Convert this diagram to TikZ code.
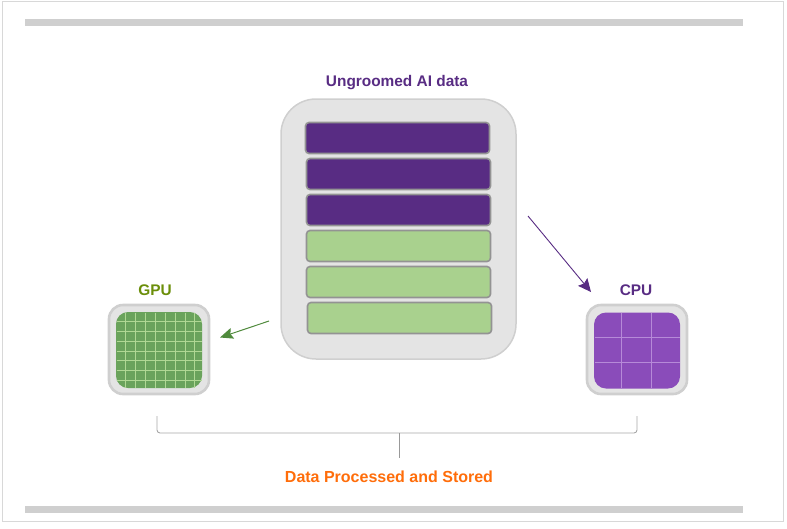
\documentclass[tikz,border=0pt]{standalone}
\usepackage{fontspec}
\setmainfont{Liberation Sans}
\usetikzlibrary{arrows.meta}
\definecolor{darkpurple}{HTML}{582C83}
\definecolor{cpupurple}{HTML}{8A4CBA}
\definecolor{lightgreen}{HTML}{A9D18E}
\definecolor{gpugreen}{HTML}{6AA35C}
\definecolor{gridgreen}{HTML}{B0D894}
\definecolor{gridpurple}{HTML}{B68AD8}
\definecolor{arrowgreen}{HTML}{4F8A3C}
\definecolor{olivetext}{HTML}{6B8E0A}
\definecolor{orangetext}{HTML}{FF6D0A}
\definecolor{shellgray}{HTML}{E4E4E4}
\definecolor{edgegray}{HTML}{CFCFCF}
\tikzset{
  datarow/.style={draw=gray!85, line width=1.6pt, rounded corners=3.5pt, minimum width=184pt, minimum height=31pt, inner sep=0pt},
  chipshell/.style={draw=edgegray, fill=shellgray, line width=2.6pt, rounded corners=14pt, minimum width=100pt, minimum height=89pt, inner sep=0pt},
  chipcore/.style={rounded corners=12pt, minimum width=86pt, minimum height=76pt, inner sep=0pt},
  caption/.style={font=\bfseries\fontsize{15.4}{18}\selectfont, inner sep=0pt}
}
\begin{document}
\begin{tikzpicture}[x=1pt,y=-1pt]
\useasboundingbox (0,0) rectangle (787,528);
% frame and bars
\draw[edgegray!80, line width=1pt] (2,1.5) rectangle (783.5,521);
\fill[edgegray] (25,19) rectangle (743,25.5);
\fill[edgegray] (25,506) rectangle (743,513);
% data block
\node[caption, text=darkpurple] (datatitle) at (397,82.5) {Ungroomed AI data};
\node[draw=edgegray, fill=shellgray, line width=1.5pt, rounded corners=35pt, minimum width=235pt, minimum height=260pt, inner sep=0pt] (datablock) at (398.5,229) {};
\node[datarow, fill=darkpurple] (rowa) at (397.5,138) {};
\node[datarow, fill=darkpurple] (rowb) at (398.5,174) {};
\node[datarow, fill=darkpurple] (rowc) at (398.5,210) {};
\node[datarow, fill=lightgreen] (rowd) at (398.5,246) {};
\node[datarow, fill=lightgreen] (rowe) at (398.5,282) {};
\node[datarow, fill=lightgreen] (rowf) at (399.5,318) {};
% gpu
\node[caption, text=olivetext] (gpulabel) at (155,290.5) {GPU};
\node[chipshell] (gpushell) at (159,349.5) {};
\node[chipcore, fill=gpugreen] (gpucore) at (159,350) {};
\foreach \xgrid in {125.5,135.5,145.5,155.5,165,175,185,194}
  \draw[gridgreen, line width=0.7pt] (\xgrid,312.5) -- (\xgrid,387.5);
\foreach \ygrid in {321.5,331.5,341,351,360.5,370.5,380}
  \draw[gridgreen, line width=0.7pt] (116.5,\ygrid) -- (201.5,\ygrid);
% cpu
\node[caption, text=darkpurple] (cpulabel) at (636,290.5) {CPU};
\node[chipshell] (cpushell) at (637,349.5) {};
\node[chipcore, fill=cpupurple] (cpucore) at (637,350.5) {};
\foreach \xgrid in {621.5,651}
  \draw[gridpurple, line width=0.7pt] (\xgrid,313) -- (\xgrid,388);
\foreach \ygrid in {337.5,362.5}
  \draw[gridpurple, line width=0.7pt] (595,\ygrid) -- (680,\ygrid);
% arrows
\coordinate (cpufrom) at (528,216);
\coordinate (cputo) at (591,292);
\coordinate (gpufrom) at (269,321);
\coordinate (gputo) at (220,337.5);
\draw[-{Stealth[length=13pt,width=12pt,inset=2pt]}, darkpurple, line width=0.9pt] (cpufrom) -- (cputo);
\draw[-{Stealth[length=13pt,width=11pt,inset=2pt]}, arrowgreen, line width=1pt] (gpufrom) -- (gputo);
% bracket
\coordinate (bracketl) at (157,416);
\coordinate (bracketr) at (637,416);
\coordinate (bracketm) at (399,433);
\coordinate (bracketb) at (399,458);
\draw[gray!70, line width=0.9pt, rounded corners=3pt] (bracketl) |- (bracketr |- bracketm) -- (bracketr);
\draw[gray!80, line width=0.9pt] (bracketm) -- (bracketb);
\node[caption, font=\bfseries\fontsize{16}{19}\selectfont, text=orangetext] (storedlabel) at (389,476.5) {Data Processed and Stored};
\end{tikzpicture}
\end{document}
